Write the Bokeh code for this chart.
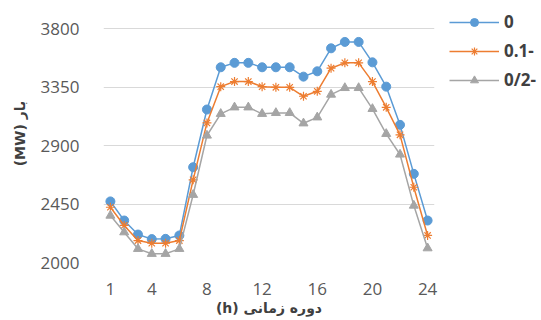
from bokeh.plotting import figure
from bokeh.models import FixedTicker, Legend, LegendItem, Range1d
from bokeh.embed import file_html
from bokeh.resources import INLINE

hours = list(range(1, 25))
s0 = [2470, 2323, 2215, 2180, 2182, 2208, 2733, 3177, 3502, 3536, 3536, 3502,
      3502, 3502, 3430, 3471, 3648, 3697, 3697, 3540, 3353, 3059, 2682, 2323]
s1 = [2425, 2285, 2169, 2148, 2148, 2169, 2636, 3074, 3353, 3392, 3392, 3353,
      3348, 3348, 3279, 3317, 3495, 3536, 3536, 3392, 3194, 2982, 2579, 2208]
s2 = [2361, 2233, 2105, 2067, 2067, 2105, 2521, 2977, 3144, 3194, 3194, 3144,
      3151, 3151, 3071, 3117, 3292, 3343, 3343, 3182, 2990, 2831, 2438, 2110]
names = ["0", "0.1-", "0/2-"]
x_ticks = [1, 4, 8, 12, 16, 20, 24]
y_ticks = [2000, 2450, 2900, 3350, 3800]
x_title = "(h) دوره زمانی"
y_title = "(MW) بار"

colors = ["#5B9BD5", "#ED7D31", "#A5A5A5"]
markers = ["circle", "asterisk", "triangle"]

p = figure(frame_width=331, frame_height=258, output_backend="svg",
           toolbar_location=None,
           x_range=Range1d(0.5, 24.5), y_range=Range1d(2000, 3985),
           min_border_left=103, min_border_right=0, min_border_top=4,
           min_border_bottom=8)
p.outline_line_color = None
p.background_fill_color = "white"
p.border_fill_color = "white"

items = []
for ys, c, m, n in zip([s0, s1, s2], colors, markers, names):
    r1 = p.line(hours, ys, line_color=c, line_width=1.5)
    r2 = p.scatter(hours, ys, marker=m, size=9, fill_color=c, line_color=c,
                   line_width=1.2 if m == "asterisk" else 1)
    items.append(LegendItem(label=n, renderers=[r1, r2]))

legend = Legend(items=items, location=(15, 171), orientation="vertical")
legend.glyph_width = 50
legend.glyph_height = 20
legend.spacing = 6
legend.label_standoff = 5
legend.padding = 0
legend.margin = 0
legend.border_line_color = None
legend.background_fill_alpha = 0
legend.label_text_font = "Open Sans"
legend.label_text_font_style = "bold"
legend.label_text_font_size = "17px"
legend.label_text_color = "#404040"
p.add_layout(legend, "right")

p.xaxis.ticker = FixedTicker(ticks=x_ticks)
p.yaxis.ticker = FixedTicker(ticks=y_ticks)
for ax in (p.xaxis, p.yaxis):
    ax.axis_line_color = None
    ax.major_tick_line_color = None
    ax.minor_tick_line_color = None
    ax.major_label_text_font = "Open Sans"
    ax.major_label_text_font_size = "17px"
    ax.major_label_text_color = "#595959"
    ax.axis_label_text_font = "DejaVu Sans"
    ax.axis_label_text_font_style = "bold"
    ax.axis_label_text_color = "#404040"
    ax.axis_label_text_font_size = "14px"
p.xaxis.axis_label = x_title
p.yaxis.axis_label = y_title
p.xaxis.major_label_standoff = 14
p.xaxis.axis_label_standoff = 2
p.yaxis.major_label_standoff = 18
p.yaxis.axis_label_standoff = 10

p.xgrid.grid_line_color = None
p.ygrid.grid_line_color = "#D9D9D9"
p.ygrid.grid_line_width = 1

open("out.html", "w").write(file_html(p, INLINE))
